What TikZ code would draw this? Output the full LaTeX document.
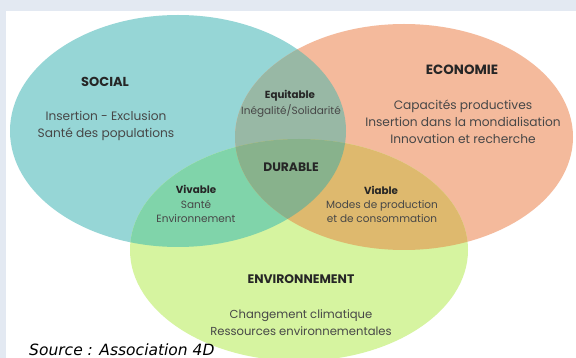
\documentclass[tikz,border=0pt]{standalone}
\usepackage{fontspec}
\setmainfont{Poppins}
\newfontfamily\srcfont{DejaVu Sans}
\definecolor{bgcol}{HTML}{E3E9F2}
\definecolor{socialcol}{HTML}{96D6D6}
\definecolor{ecocol}{HTML}{F4BA9C}
\definecolor{envcol}{HTML}{D6F4A0}
\definecolor{equicol}{HTML}{98B8A5}
\definecolor{vivcol}{HTML}{80D4AA}
\definecolor{viacol}{HTML}{DEB96E}
\definecolor{durcol}{HTML}{88B28C}
\tikzset{
  bigtitle/.style={font=\bfseries\fontsize{13}{15}\selectfont, text=black!85, inner sep=0pt},
  bigbody/.style={font=\fontsize{12.2}{17}\selectfont, align=center, text=black!72, inner sep=0pt},
  smalltitle/.style={font=\bfseries\fontsize{10.3}{12}\selectfont, text=black!85, inner sep=0pt},
  smallbody/.style={font=\fontsize{10.5}{14}\selectfont, align=center, text=black!72, inner sep=0pt}
}

\begin{document}
\begin{tikzpicture}[x=1pt,y=-1pt]
   \useasboundingbox (0,0) rectangle (576,358);
   \fill[bgcol] (0,0) rectangle (576,358);
   \fill[white] (6,11) rectangle (576,358);

   \coordinate (soc) at (178,131);
   \coordinate (eco) at (404,137);
   \coordinate (env) at (299,250);

   % the three circles
   \fill[socialcol] (soc) ellipse [x radius=168pt, y radius=116pt];
   \fill[ecocol] (eco) ellipse [x radius=169pt, y radius=113pt];
   \fill[envcol] (env) ellipse [x radius=169pt, y radius=111pt];

   % overlaps
   \begin{scope}
    \clip (soc) ellipse [x radius=168pt, y radius=116pt];
    \fill[equicol] (eco) ellipse [x radius=169pt, y radius=113pt];
    \fill[vivcol] (env) ellipse [x radius=169pt, y radius=111pt];
   \end{scope}
   \begin{scope}
    \clip (eco) ellipse [x radius=169pt, y radius=113pt];
    \fill[viacol] (env) ellipse [x radius=169pt, y radius=111pt];
    \clip (soc) ellipse [x radius=168pt, y radius=116pt];
    \fill[durcol] (env) ellipse [x radius=169pt, y radius=111pt];
   \end{scope}

   \node[bigtitle] (social) at (105,82) {SOCIAL};
   \node[bigbody] (socialtxt) at (106,126) {Insertion - Exclusion\\Santé des populations};
   \node[bigtitle, font=\bfseries\fontsize{13.4}{15}\selectfont] (economie) at (462,70) {ECONOMIE};
   \node[bigbody] (economietxt) at (463,122) {Capacités productives\\Insertion dans la mondialisation\\Innovation et recherche};
   \node[smalltitle] (equitable) at (290,96) {Equitable};
   \node[smallbody] (equitabletxt) at (291,111) {Inégalité/Solidarité};
   \node[bigtitle, font=\bfseries\fontsize{12.3}{14}\selectfont] (durable) at (291,167) {DURABLE};
   \node[smalltitle] (vivable) at (196,189) {Vivable};
   \node[smallbody] (vivabletxt) at (196,211) {Santé\\Environnement};
   \node[smalltitle] (viable) at (381,190) {Viable};
   \node[smallbody] (viabletxt) at (382,212) {Modes de production\\et de consommation};
   \node[bigtitle, font=\bfseries\fontsize{12.4}{14}\selectfont] (environnement) at (301,279) {ENVIRONNEMENT};
   \node[bigbody, font=\fontsize{11.6}{17}\selectfont] (environnementtxt) at (301,323) {Changement climatique\\Ressources environnementales};
   \node[anchor=base west, inner sep=0pt, font=\srcfont\itshape\fontsize{15.5}{17}\selectfont] (source) at (29,355) {Source : Association 4D};
\end{tikzpicture}
\end{document}
